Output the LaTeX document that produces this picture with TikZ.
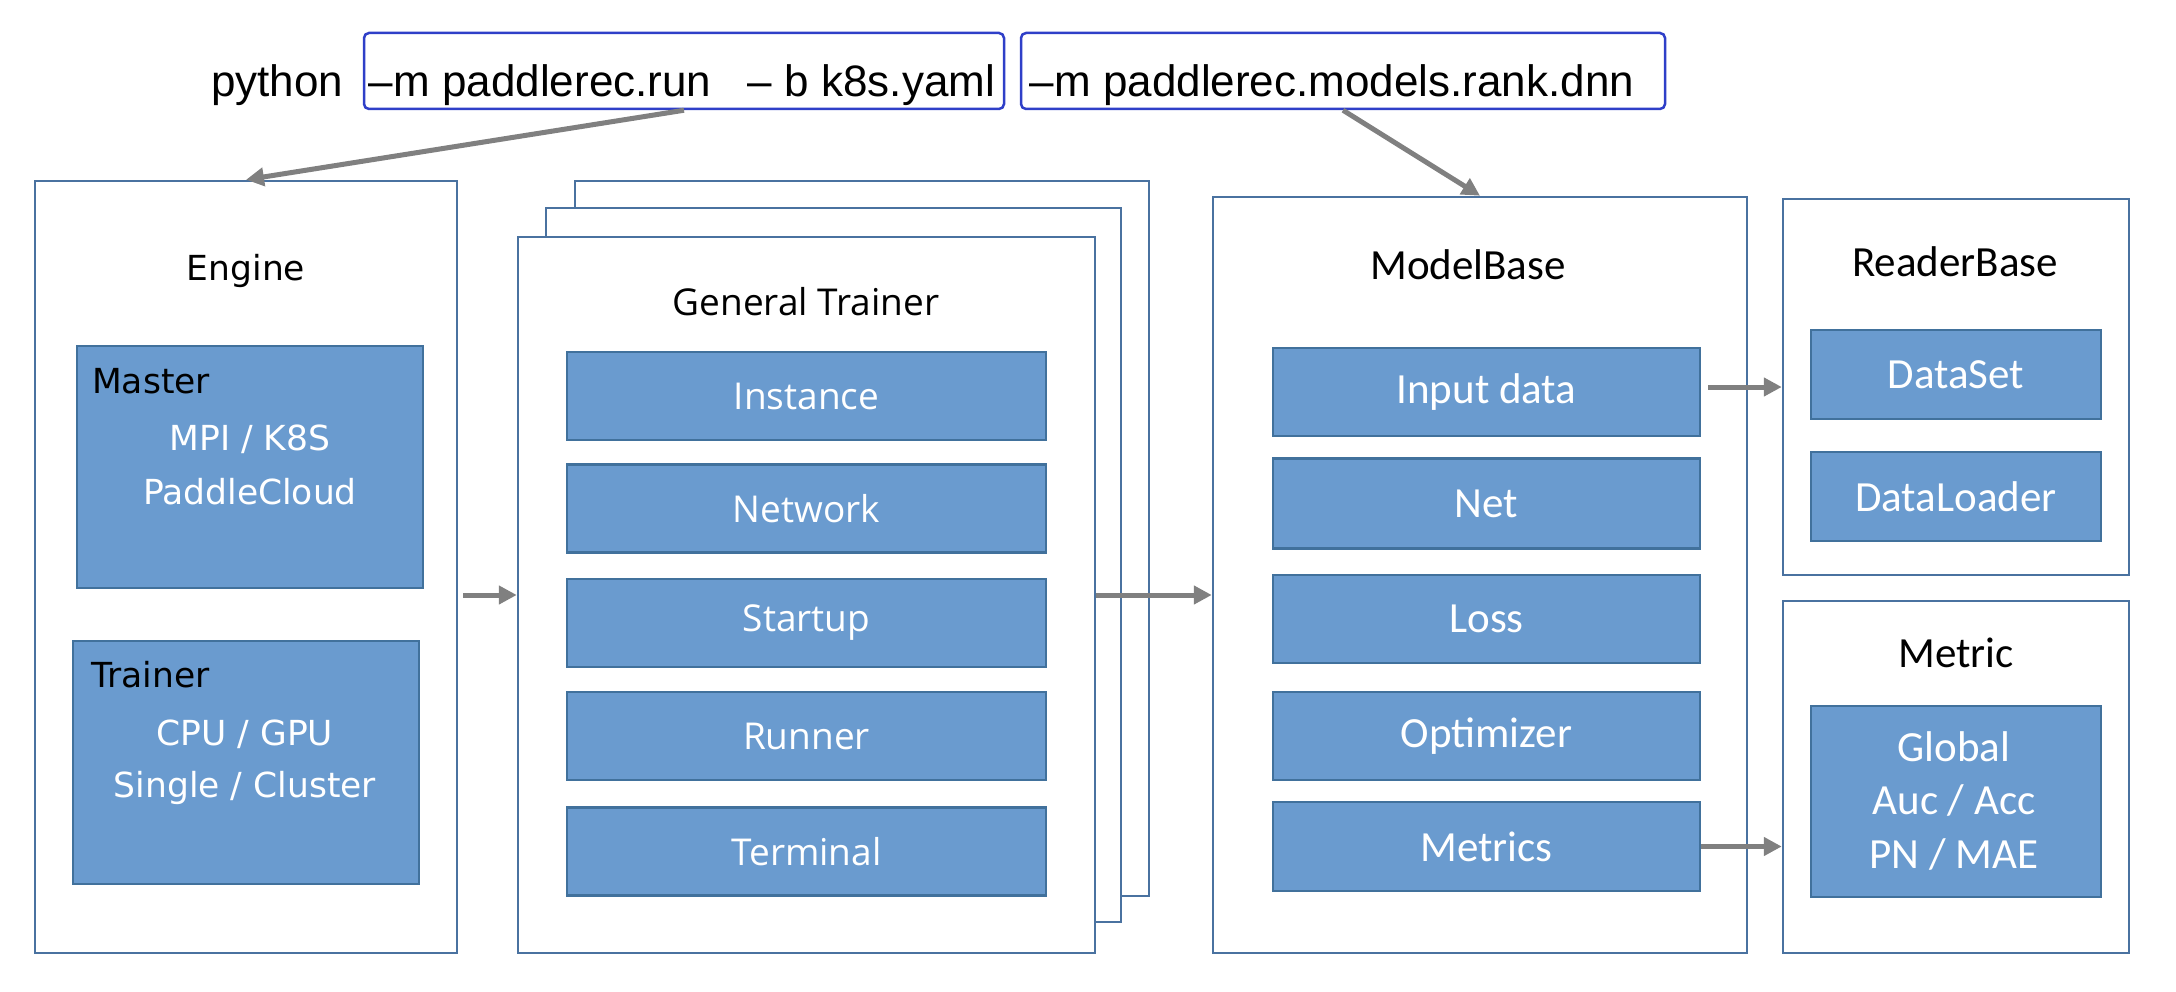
\documentclass[tikz,border=0pt]{standalone}
\usepackage{fontspec}
\setmainfont{Liberation Sans}
\newfontfamily\fdv{DejaVu Sans}
\newfontfamily\fos{Open Sans}
\newfontfamily\fcal{Carlito}
\usetikzlibrary{arrows.meta}
\definecolor{outerc}{HTML}{4A72A0}
\definecolor{innerfill}{HTML}{6A9BCF}
\definecolor{innerc}{HTML}{41719C}
\definecolor{topc}{HTML}{2F3FC8}
\definecolor{arrc}{HTML}{808080}
\tikzset{
  outer/.style={draw=outerc, line width=2.5pt, fill=white, inner sep=0pt},
  inner/.style={draw=innerc, line width=2.5pt, fill=innerfill, inner sep=0pt, text=white},
  topbox/.style={draw=topc, line width=2.5pt, rounded corners=5pt, inner sep=0pt},
  arr/.style={draw=arrc, line width=5pt, -{Triangle[length=18pt,width=18pt]}},
  fdvs/.style={font=\fdv\fontsize{34.5}{40}\selectfont},
  foss/.style={font=\fos\fontsize{37}{44}\selectfont},
  fcals/.style={font=\fcal\fontsize{43}{52}\selectfont},
  ftop/.style={font=\fontsize{44}{52}\selectfont},
}
\begin{document}
\begin{tikzpicture}[x=1pt,y=-1pt]
\useasboundingbox (0,0) rectangle (2176,992);

% top command line
\node[ftop, anchor=base west, inner sep=0pt] (py) at (211,97) {python};
\node[topbox, minimum width=640, minimum height=76] (b1) at (684,71) {};
\node[topbox, minimum width=644, minimum height=76] (b2) at (1343,71) {};
\node[ftop, anchor=base, inner sep=0pt] (b1t) at (682,97) {–m paddlerec.run\ \ \ – b k8s.yaml};
\node[ftop, anchor=base, inner sep=0pt] (b2t) at (1332,97) {–m paddlerec.models.rank.dnn};

% Engine
\node[outer, minimum width=422, minimum height=772] (engine) at (246,567) {};
\node[fdvs] (enginet) at (246,271) {Engine};
\node[inner, minimum width=346, minimum height=242] (master) at (250,467) {};
\node[fdvs, anchor=west, inner sep=0pt] (mastert) at (92,381) {Master};
\node[fdvs, text=white] (masterl1) at (250,439) {MPI / K8S};
\node[fdvs, text=white] (masterl2) at (250,492) {PaddleCloud};
\node[inner, minimum width=346, minimum height=243] (trainer) at (246,762.5) {};
\node[fdvs, anchor=west, inner sep=0pt] (trainert) at (91,675) {Trainer};
\node[fdvs, text=white] (trainerl1) at (245,734) {CPU / GPU};
\node[fdvs, text=white] (trainerl2) at (245,788) {Single / Cluster};

% General Trainer stack
\node[outer, minimum width=574, minimum height=715] (back) at (862,538.5) {};
\node[outer, minimum width=575, minimum height=714] (middle) at (833.5,565) {};
\node[outer, minimum width=577, minimum height=716] (front) at (806.5,595) {};
\node[foss] (frontt) at (806,302) {General Trainer};
\node[inner, foss, minimum width=479, minimum height=88] (inst) at (806.5,396) {Instance};
\node[inner, foss, minimum width=479, minimum height=88] (netw) at (806.5,508.5) {Network};
\node[inner, foss, minimum width=479, minimum height=88] (start) at (806.5,623) {Startup};
\node[inner, foss, minimum width=479, minimum height=88] (runner) at (806.5,736) {Runner};
\node[inner, foss, minimum width=479, minimum height=88] (term) at (806.5,851.5) {Terminal};

% ModelBase
\node[outer, minimum width=534, minimum height=756] (mb) at (1480,575) {};
\node[fcals] (mbt) at (1468,265) {ModelBase};
\node[inner, fcals, minimum width=427, minimum height=88] (inp) at (1486.5,392) {Input data};
\node[inner, fcals, minimum width=427, minimum height=90] (net) at (1486.5,503.5) {Net};
\node[inner, fcals, minimum width=427, minimum height=88] (loss) at (1486.5,619) {Loss};
\node[inner, fcals, minimum width=427, minimum height=88] (opt) at (1486.5,736) {Optimizer};
\node[inner, fcals, minimum width=427, minimum height=89] (mets) at (1486.5,846.5) {Metrics};

% ReaderBase
\node[outer, minimum width=346, minimum height=376] (reader) at (1956,387) {};
\node[fcals] (readert) at (1955,262) {ReaderBase};
\node[inner, fcals, minimum width=290, minimum height=89] (dset) at (1956,374.5) {DataSet};
\node[inner, fcals, minimum width=290, minimum height=89] (dload) at (1956,496.5) {DataLoader};

% Metric
\node[outer, minimum width=346, minimum height=352] (metric) at (1956,777) {};
\node[fcals] (metrict) at (1956,653) {Metric};
\node[inner, minimum width=290, minimum height=191] (metin) at (1956,801.5) {};
\node[fcals, text=white] (metl1) at (1954,747) {Global};
\node[fcals, text=white] (metl2) at (1954,800) {Auc / Acc};
\node[fcals, text=white] (metl3) at (1954,854) {PN / MAE};

% connectors
\draw[arr] (b1.south) -- (engine.north);
\draw[arr] (b2.south) -- (mb.north);
\draw[arr] ([xshift=5pt]engine.east |- front.west) -- (front.west);
\draw[arr] (front.east) -- (front.east -| mb.west);
\draw[arr] ([xshift=7pt]inp.east |- reader.west) -- (reader.west);
\draw[arr] (mets.east) -- (mets.east -| metric.west);
\end{tikzpicture}
\end{document}
